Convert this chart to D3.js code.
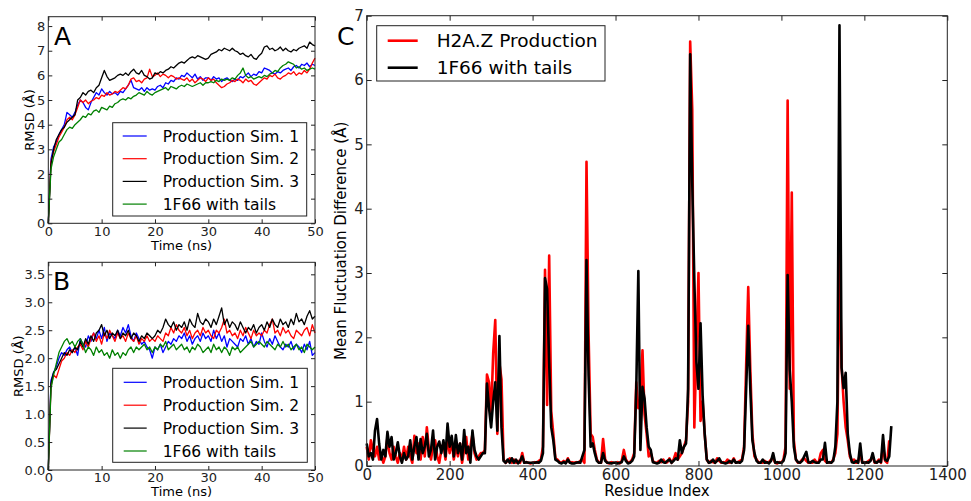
<html>
<head>
    <title>RMSD and fluctuation difference</title>
    <script src="https://d3js.org/d3.v7.min.js"></script>
    <style>
        body {
            margin: 0;
            background: #fff;
        }

        svg {
            font-family: "DejaVu Sans", sans-serif;
        }

        .frame {
            fill: none;
            stroke: #222;
            stroke-width: 1;
        }

        .tick line {
            stroke: #222;
        }

        .tick text {
            fill: #222;
        }

        .legend-box {
            fill: #fff;
            stroke: #222;
            stroke-width: 1;
        }

        .series {
            fill: none;
            stroke-linejoin: round;
        }
    </style>
</head>
<body>
    <svg id="chart" width="971" height="501"></svg>

    <script>
        // ---- data ----
        const tStep = 0.5; // ns between samples in panels A and B
        const timeTicks = [0, 10, 20, 30, 40, 50];
        const rmsdTicksA = [0, 1, 2, 3, 4, 5, 6, 7, 8];
        const rmsdTicksB = [0, 0.5, 1, 1.5, 2, 2.5, 3, 3.5];
        const simNames = ["Production Sim. 1", "Production Sim. 2", "Production Sim. 3", "1F66 with tails"];
        const simColors = ["#0000ff", "#ff0000", "#000000", "#008000"];

        const a_sim1 = [0, 2.6, 3.1, 3.3, 3.6, 3.8, 4.0, 4.5, 4.4, 4.3,
            4.5, 4.8, 5.0, 4.9, 4.7, 4.6, 4.9, 5.1, 5.3, 5.2,
            5.45, 5.3, 5.2, 5.35, 5.25, 5.3, 5.2, 5.35, 5.3, 5.45,
            5.6, 5.8, 5.5, 5.45, 5.4, 5.5, 5.35, 5.5, 5.4, 5.45,
            5.4, 5.55, 5.6, 5.5, 5.7, 5.65, 5.8, 5.75, 5.9, 5.85,
            6.0, 5.95, 6.1, 6.0, 5.9, 6.05, 5.85, 5.95, 5.8, 5.9,
            5.9, 5.8, 5.95, 5.85, 5.9, 5.75, 5.85, 5.9, 5.8, 5.75,
            5.85, 5.8, 5.95, 5.9, 6.0, 6.1, 5.95, 6.05, 6.0, 6.15,
            6.1, 6.3, 6.25, 6.2, 6.1, 6.05, 6.15, 6.1, 6.2, 6.25,
            6.3, 6.2, 6.35, 6.4, 6.3, 6.45, 6.4, 6.5, 6.35, 6.45,
            6.4];
        const a_sim2 = [0, 2.5, 2.9, 3.2, 3.5, 3.7, 3.9, 4.2, 4.3, 4.2,
            4.4, 4.7, 5.0, 4.9, 5.0, 4.85, 4.95, 5.0, 5.1, 5.05,
            5.2, 5.15, 5.3, 5.2, 5.25, 5.35, 5.3, 5.4, 5.5, 5.45,
            5.6, 5.85, 5.9, 5.75, 5.8, 5.7, 5.85, 5.9, 6.25, 5.95,
            6.0, 6.1, 5.95, 6.05, 6.0, 5.9, 6.0, 5.95, 5.85, 5.9,
            5.85, 5.8, 5.9, 5.75, 5.85, 5.7, 5.8, 5.9, 5.85, 5.75,
            5.9, 5.8, 5.85, 5.7, 5.6, 5.5, 5.55, 5.65, 5.7, 5.8,
            5.75, 5.85, 5.8, 5.7, 5.85, 5.75, 5.8, 5.65, 5.6, 5.7,
            5.8, 5.9, 5.85, 6.0, 5.95, 6.05, 5.9, 5.85, 5.95, 6.0,
            6.1, 6.05, 6.15, 6.0, 6.1, 6.05, 6.2, 6.1, 6.25, 6.5,
            6.7];
        const a_sim3 = [0, 2.4, 3.0, 3.4, 3.6, 3.8, 3.9, 4.1, 4.2, 4.3,
            4.4, 5.0, 5.1, 5.3, 5.2, 5.35, 5.4, 5.3, 5.5, 5.6,
            5.9, 6.2, 5.95, 5.8, 5.85, 5.9, 6.0, 6.05, 6.0, 6.1,
            6.0, 6.15, 6.25, 6.1, 6.05, 6.2, 6.0, 5.95, 5.85, 5.9,
            6.1, 6.05, 6.15, 6.1, 6.2, 6.25, 6.35, 6.3, 6.4, 6.5,
            6.55, 6.5, 6.6, 6.7, 6.75, 6.7, 6.8, 6.75, 6.7, 6.65,
            6.7, 6.85, 6.9, 6.95, 7.05, 7.0, 7.1, 7.05, 7.0, 7.1,
            7.0, 6.95, 6.85, 6.9, 6.8, 6.75, 6.85, 6.7, 6.65, 6.8,
            6.9, 7.15, 7.2, 7.05, 7.1, 7.0, 7.05, 7.15, 7.0, 7.1,
            7.0, 6.95, 7.05, 7.0, 7.1, 7.15, 7.2, 7.1, 7.35, 7.25,
            7.2];
        const a_tails = [0, 2.2, 2.7, 3.0, 3.3, 3.4, 3.6, 3.8, 3.9, 3.85,
            4.0, 4.1, 4.2, 4.35, 4.3, 4.45, 4.4, 4.55, 4.6, 4.5,
            4.7, 4.65, 4.6, 4.75, 4.7, 4.85, 4.9, 5.0, 5.05, 5.0,
            5.1, 5.05, 5.15, 5.2, 5.3, 5.25, 5.2, 5.35, 5.25, 5.2,
            5.3, 5.35, 5.4, 5.45, 5.5, 5.4, 5.55, 5.5, 5.45, 5.55,
            5.6, 5.55, 5.65, 5.6, 5.55, 5.6, 5.65, 5.7, 5.6, 5.7,
            5.7, 5.75, 5.7, 5.8, 5.75, 5.85, 5.8, 5.85, 5.8, 5.9,
            5.85, 6.0, 6.1, 6.3, 6.0, 5.9, 5.95, 5.85, 5.9, 5.95,
            5.9, 6.0, 5.95, 6.05, 6.1, 6.2, 6.15, 6.3, 6.4, 6.45,
            6.55, 6.5, 6.45, 6.3, 6.35, 6.25, 6.3, 6.2, 6.25, 6.3,
            6.25];

        const b_sim1 = [0, 1.6, 1.75, 1.85, 2.0, 2.1, 2.05, 2.15, 2.2, 2.1,
            2.2, 2.05, 2.35, 2.25, 2.2, 2.4, 2.3, 2.45, 2.35, 2.5,
            2.35, 2.55, 2.3, 2.45, 2.4, 2.35, 2.5, 2.4, 2.55, 2.45,
            2.6, 2.4, 2.3, 2.45, 2.35, 2.25, 2.3, 2.2, 2.15, 2.0,
            2.2, 2.15, 2.25, 2.1, 2.2, 2.3, 2.25, 2.35, 2.3, 2.4,
            2.35, 2.45, 2.3, 2.4, 2.25, 2.35, 2.4, 2.3, 2.45, 2.35,
            2.4, 2.3, 2.5, 2.35, 2.45, 2.3, 2.4, 2.2, 2.35, 2.3,
            2.25, 2.2, 2.35, 2.3, 2.4, 2.25, 2.35, 2.2, 2.3, 2.25,
            2.45, 2.3, 2.2, 2.35, 2.25, 2.4, 2.3, 2.2, 2.15, 2.25,
            2.2, 2.3, 2.15, 2.25, 2.2, 2.1, 2.25, 2.15, 2.3, 2.05,
            2.1];
        const b_sim2 = [0, 1.5, 1.7, 1.65, 1.8, 1.95, 2.0, 2.1, 2.05, 2.15,
            2.1, 2.2, 2.25, 2.15, 2.3, 2.2, 2.35, 2.45, 2.3, 2.4,
            2.25, 2.45, 2.35, 2.5, 2.4, 2.3, 2.45, 2.35, 2.4, 2.3,
            2.45, 2.35, 2.3, 2.4, 2.25, 2.35, 2.3, 2.4, 2.3, 2.35,
            2.3, 2.4, 2.35, 2.3, 2.45, 2.4, 2.55, 2.45, 2.6, 2.5,
            2.45, 2.55, 2.4, 2.5, 2.35, 2.45, 2.5, 2.4, 2.55, 2.45,
            2.5, 2.4, 2.35, 2.5, 2.45, 2.55, 2.7, 2.45, 2.5, 2.4,
            2.45, 2.35, 2.5, 2.4, 2.55, 2.45, 2.35, 2.5, 2.4, 2.45,
            2.4, 2.5, 2.45, 2.6, 2.7, 2.45, 2.5, 2.4, 2.55, 2.45,
            2.5, 2.4, 2.35, 2.5, 2.45, 2.4, 2.5, 2.55, 2.4, 2.6,
            2.45];
        const b_sim3 = [0, 1.55, 1.75, 1.8, 1.9, 2.0, 2.1, 2.05, 2.15, 2.1,
            2.2, 2.15, 2.3, 2.2, 2.35, 2.25, 2.4, 2.3, 2.45, 2.5,
            2.6, 2.4, 2.5, 2.35, 2.45, 2.4, 2.5, 2.35, 2.45, 2.4,
            2.5, 2.35, 2.45, 2.4, 2.3, 2.4, 2.35, 2.45, 2.4, 2.35,
            2.4, 2.5, 2.45, 2.55, 2.7, 2.6, 2.55, 2.65, 2.5, 2.6,
            2.55, 2.65, 2.5, 2.7, 2.6, 2.55, 2.8, 2.65, 2.6, 2.7,
            2.65, 2.55, 2.7, 2.6, 2.75, 2.9, 2.6, 2.7, 2.55, 2.65,
            2.6, 2.5, 2.65, 2.55, 2.45, 2.55, 2.5, 2.6, 2.45, 2.55,
            2.6, 2.5, 2.65, 2.55, 2.7, 2.6, 2.55, 2.7, 2.6, 2.65,
            2.55, 2.7, 2.6, 2.8, 2.65, 2.7, 2.6, 2.75, 2.85, 2.7,
            2.75];
        const b_tails = [0, 1.45, 1.7, 1.9, 2.1, 2.2, 2.3, 2.35, 2.25, 2.3,
            2.2, 2.3, 2.35, 2.25, 2.1, 2.2, 2.15, 2.05, 2.2, 2.1,
            2.15, 2.05, 2.1, 2.0, 2.15, 2.05, 2.1, 2.0, 2.1, 2.05,
            2.15, 2.2, 2.1, 2.2, 2.15, 2.2, 2.25, 2.15, 2.2, 2.1,
            2.2, 2.15, 2.25, 2.2, 2.3, 2.15, 2.2, 2.25, 2.15, 2.2,
            2.25, 2.15, 2.2, 2.1, 2.2, 2.15, 2.25, 2.2, 2.1, 2.15,
            2.2, 2.1, 2.25, 2.15, 2.2, 2.1, 2.2, 2.15, 2.05, 2.2,
            2.15, 2.2, 2.1, 2.15, 2.2, 2.25, 2.3, 2.2, 2.25, 2.3,
            2.25, 2.2, 2.3, 2.25, 2.2, 2.15, 2.25, 2.2, 2.3, 2.2,
            2.25, 2.15, 2.2, 2.25, 2.15, 2.2, 2.1, 2.25, 2.2, 2.15,
            2.2];

        const resStep = 5; // residues between samples in panel C
        const residueTicks = [0, 200, 400, 600, 800, 1000, 1200, 1400];
        const flucTicks = [0, 1, 2, 3, 4, 5, 6, 7];
        const flucNames = ["H2A.Z Production", "1F66 with tails"];
        const flucColors = ["#ff0000", "#000000"];

        const c_h2az = [
            0.3, 0.1, 0.4, 0.25, 0.15, 0.3, 0.1, 0.2, 0.05, 0.15, 0.45, 0.2, 0.1, 0.3, 0.15, 0.05, 0.2, 0.1, 0.3, 0.1,
            0.3, 0.15, 0.05, 0.47, 0.2, 0.35, 0.1, 0.45, 0.15, 0.6, 0.25, 0.1, 0.3, 0.4, 0.15, 0.05, 0.25, 0.35, 0.1, 0.45,
            0.2, 0.4, 0.1, 0.3, 0.15, 0.35, 0.05, 0.25, 0.45, 0.1, 0.3, 0.5, 0.2, 0.1, 0.15, 0.2, 0.2, 0.25, 1.42, 1.3,
            0.8, 1.75, 2.27, 0.5, 1.6, 1.35, 0.1, 0.05, 0.08, 0.12, 0.05, 0.1, 0.05, 0.08, 0.05, 0.2, 0.05, 0.06, 0.05, 0.04,
            0.05, 0.06, 0.05, 0.08, 0.1, 0.3, 3.05, 0.95, 3.27, 0.85, 0.5, 0.12, 0.1, 0.06, 0.05, 0.08, 0.05, 0.12, 0.05, 0.06,
            0.05, 0.06, 0.05, 0.08, 0.1, 0.05, 4.73, 2.05, 0.5, 0.45, 0.25, 0.1, 0.05, 0.05, 0.42, 0.1, 0.05, 0.04, 0.06, 0.05,
            0.05, 0.06, 0.04, 0.08, 0.25, 0.1, 0.05, 0.06, 0.1, 0.2, 1.3, 0.9, 1.0, 1.8, 0.8, 0.5, 0.15, 0.2, 0.08, 0.05,
            0.05, 0.08, 0.06, 0.1, 0.05, 0.06, 0.12, 0.05, 0.1, 0.2, 0.1, 0.15, 0.2, 0.3, 0.4, 1.0, 6.6, 5.55, 0.6, 1.8,
            3.0, 0.7, 1.0, 0.5, 0.1, 0.05, 0.08, 0.06, 0.05, 0.12, 0.08, 0.05, 0.06, 0.05, 0.1, 0.05, 0.06, 0.12, 0.05, 0.06,
            0.08, 0.1, 0.3, 1.57, 2.78, 1.5, 0.5, 0.15, 0.1, 0.05, 0.06, 0.05, 0.08, 0.05, 0.06, 0.1, 0.12, 0.05, 0.04, 0.06,
            0.05, 0.1, 0.3, 5.68, 1.2, 4.25, 0.4, 0.1, 0.05, 0.06, 0.1, 0.12, 0.08, 0.05, 0.06, 0.05, 0.1, 0.05, 0.06, 0.2,
            0.25, 0.08, 0.05, 0.06, 0.05, 0.1, 0.2, 0.5, 3.4, 1.55, 1.0, 0.6, 0.4, 0.15, 0.08, 0.1, 0.05, 0.06, 0.2, 0.05,
            0.06, 0.05, 0.08, 0.1, 0.15, 0.05, 0.06, 0.1, 0.05, 0.3, 0.08, 0.05, 0.4];
        const c_1f66 = [
            0.35, 0.15, 0.2, 0.1, 0.55, 0.73, 0.35, 0.1, 0.25, 0.15, 0.53, 0.3, 0.45, 0.1, 0.2, 0.37, 0.15, 0.05, 0.2, 0.1,
            0.15, 0.4, 0.1, 0.3, 0.45, 0.1, 0.42, 0.2, 0.3, 0.5, 0.15, 0.25, 0.55, 0.1, 0.3, 0.38, 0.2, 0.4, 0.15, 0.66,
            0.3, 0.47, 0.15, 0.48, 0.2, 0.35, 0.1, 0.56, 0.2, 0.3, 0.05, 0.55, 0.25, 0.15, 0.1, 0.15, 0.2, 0.2, 1.28, 0.9,
            0.6, 1.0, 1.3, 0.55, 2.02, 0.6, 0.08, 0.05, 0.1, 0.05, 0.12, 0.05, 0.1, 0.04, 0.08, 0.15, 0.05, 0.06, 0.05, 0.05,
            0.05, 0.05, 0.06, 0.05, 0.08, 0.2, 2.92, 2.75, 1.6, 0.6, 0.4, 0.1, 0.08, 0.05, 0.04, 0.06, 0.04, 0.1, 0.05, 0.04,
            0.04, 0.05, 0.06, 0.05, 0.15, 0.25, 3.2, 1.4, 0.3, 0.35, 0.2, 0.08, 0.05, 0.05, 0.2, 0.08, 0.05, 0.05, 0.04, 0.05,
            0.05, 0.04, 0.05, 0.06, 0.15, 0.08, 0.04, 0.05, 0.08, 0.15, 1.2, 3.03, 0.25, 1.23, 1.05, 0.6, 0.3, 0.25, 0.06, 0.05,
            0.04, 0.05, 0.1, 0.06, 0.05, 0.08, 0.1, 0.05, 0.08, 0.12, 0.1, 0.4, 0.2, 0.3, 0.35, 1.2, 6.4, 4.4, 2.9, 1.62,
            1.2, 2.22, 1.1, 0.5, 0.1, 0.05, 0.06, 0.1, 0.05, 0.08, 0.12, 0.06, 0.05, 0.04, 0.05, 0.08, 0.05, 0.1, 0.05, 0.06,
            0.05, 0.08, 0.25, 1.2, 2.18, 1.2, 0.4, 0.2, 0.08, 0.05, 0.05, 0.1, 0.05, 0.06, 0.04, 0.08, 0.2, 0.05, 0.06, 0.05,
            0.05, 0.08, 0.2, 2.97, 1.5, 1.0, 0.3, 0.1, 0.06, 0.05, 0.08, 0.15, 0.22, 0.06, 0.05, 0.08, 0.06, 0.05, 0.05, 0.1,
            0.1, 0.36, 0.05, 0.06, 0.05, 0.08, 0.3, 1.0, 6.85, 1.53, 1.21, 1.45, 0.5, 0.2, 0.06, 0.05, 0.08, 0.05, 0.35, 0.05,
            0.05, 0.06, 0.05, 0.08, 0.2, 0.06, 0.05, 0.08, 0.06, 0.48, 0.1, 0.08, 0.15, 0.62];

        // ---- drawing ----
        const font = '"DejaVu Sans", sans-serif';
        const svg = d3.select("svg#chart");
        svg.append("rect").attr("width", 971).attr("height", 501).attr("fill", "#fff");

        // matplotlib style: ticks inward on all four sides, frame box
        function frameAxes(g, x, y, box, xTicks, yTicks, yFmt, fs, tl) {
            const clean = s => s.select(".domain").remove();

            g.append("g")
                .attr("transform", `translate(0,${box.bottom})`)
                .call(d3.axisBottom(x).tickValues(xTicks).tickSizeInner(-tl).tickSizeOuter(0).tickPadding(3).tickFormat(d3.format("d")))
                .call(clean)
                .attr("font-size", fs).attr("font-family", font);

            g.append("g")
                .attr("transform", `translate(0,${box.top})`)
                .call(d3.axisTop(x).tickValues(xTicks).tickSizeInner(-tl).tickSizeOuter(0).tickFormat(""))
                .call(clean);

            g.append("g")
                .attr("transform", `translate(${box.left},0)`)
                .call(d3.axisLeft(y).tickValues(yTicks).tickSizeInner(-tl).tickSizeOuter(0).tickPadding(3).tickFormat(yFmt))
                .call(clean)
                .attr("font-size", fs).attr("font-family", font);

            g.append("g")
                .attr("transform", `translate(${box.right},0)`)
                .call(d3.axisRight(y).tickValues(yTicks).tickSizeInner(-tl).tickSizeOuter(0).tickFormat(""))
                .call(clean);

            g.append("rect")
                .attr("class", "frame")
                .attr("x", box.left)
                .attr("y", box.top)
                .attr("width", box.right - box.left)
                .attr("height", box.bottom - box.top);
        }

        function legend(g, lg, names, colors, lineW, fs) {
            g.append("rect")
                .attr("class", "legend-box")
                .attr("x", lg.x).attr("y", lg.y)
                .attr("width", lg.w).attr("height", lg.h);

            names.forEach((name, i) => {
                const cy = lg.y + lg.first + i * lg.gap;
                g.append("line")
                    .attr("x1", lg.x + lg.lx1).attr("x2", lg.x + lg.lx2)
                    .attr("y1", cy).attr("y2", cy)
                    .attr("stroke", colors[i]).attr("stroke-width", lineW);
                g.append("text")
                    .attr("x", lg.x + lg.tx).attr("y", cy)
                    .attr("dy", "0.36em")
                    .attr("font-size", fs)
                    .text(name);
            });
        }

        function rmsdPanel(box, yMax, yTicks, yFmt, series, letter, letterPos, lg, labelPos) {
            const x = d3.scaleLinear().domain([0, 50]).range([box.left, box.right]);
            const y = d3.scaleLinear().domain([0, yMax]).range([box.bottom, box.top]);
            const g = svg.append("g");

            const line = d3.line()
                .x((d, i) => x(i * tStep))
                .y(d => y(d));

            series.forEach((s, i) => {
                g.append("path")
                    .datum(s)
                    .attr("class", "series")
                    .attr("stroke", simColors[i])
                    .attr("stroke-width", 1.3)
                    .attr("d", line);
            });

            frameAxes(g, x, y, box, timeTicks, yTicks, yFmt, 13, 4);

            g.append("text")
                .attr("x", letterPos[0]).attr("y", letterPos[1])
                .attr("font-size", 25)
                .text(letter);

            legend(g, lg, simNames, simColors, 1.2, 15.5);

            g.append("text")
                .attr("text-anchor", "middle")
                .attr("x", (box.left + box.right) / 2)
                .attr("y", labelPos[1])
                .attr("font-size", 13)
                .text("Time (ns)");

            g.append("text")
                .attr("text-anchor", "middle")
                .attr("transform", `translate(${labelPos[0]},${(box.top + box.bottom) / 2}) rotate(-90)`)
                .attr("font-size", 13)
                .text("RMSD (Å)");
        }

        rmsdPanel({ left: 48.3, right: 315, top: 16.7, bottom: 223.3 }, 8.38, rmsdTicksA, d3.format("d"),
            [a_sim1, a_sim2, a_sim3, a_tails], "A", [54, 45],
            { x: 112.7, y: 122.7, w: 194, h: 93.3, first: 13.3, gap: 22.7, lx1: 10, lx2: 34, tx: 50 },
            [34, 250]);

        rmsdPanel({ left: 48.3, right: 315, top: 262.3, bottom: 470 }, 3.715, rmsdTicksB, d3.format(".1f"),
            [b_sim1, b_sim2, b_sim3, b_tails], "B", [53, 290],
            { x: 112.7, y: 368.3, w: 194.6, h: 94, first: 14, gap: 22.9, lx1: 11, lx2: 34, tx: 50 },
            [23, 496]);

        // panel C
        const boxC = { left: 366.7, right: 947.3, top: 15.7, bottom: 466 };
        const xC = d3.scaleLinear().domain([0, 1400]).range([boxC.left, boxC.right]);
        const yC = d3.scaleLinear().domain([0, 7]).range([boxC.bottom, boxC.top]);
        const gC = svg.append("g");

        const lineC = d3.line()
            .x((d, i) => xC(i * resStep))
            .y(d => yC(d));

        [c_h2az, c_1f66].forEach((s, i) => {
            gC.append("path")
                .datum(s)
                .attr("class", "series")
                .attr("stroke", flucColors[i])
                .attr("stroke-width", 2.6)
                .attr("d", lineC);
        });

        frameAxes(gC, xC, yC, boxC, residueTicks, flucTicks, d3.format("d"), 15, 5);

        gC.append("text")
            .attr("x", 337).attr("y", 45)
            .attr("font-size", 25)
            .text("C");

        legend(gC, { x: 376.7, y: 25.7, w: 228.3, h: 55.3, first: 15, gap: 27, lx1: 11, lx2: 41, tx: 60 },
            flucNames, flucColors, 2.6, 18.5);

        gC.append("text")
            .attr("text-anchor", "middle")
            .attr("x", (boxC.left + boxC.right) / 2)
            .attr("y", 496)
            .attr("font-size", 15)
            .text("Residue Index");

        gC.append("text")
            .attr("text-anchor", "middle")
            .attr("transform", `translate(346,${(boxC.top + boxC.bottom) / 2}) rotate(-90)`)
            .attr("font-size", 15)
            .text("Mean Fluctuation Difference (Å)");
    </script>
</body>
</html>
